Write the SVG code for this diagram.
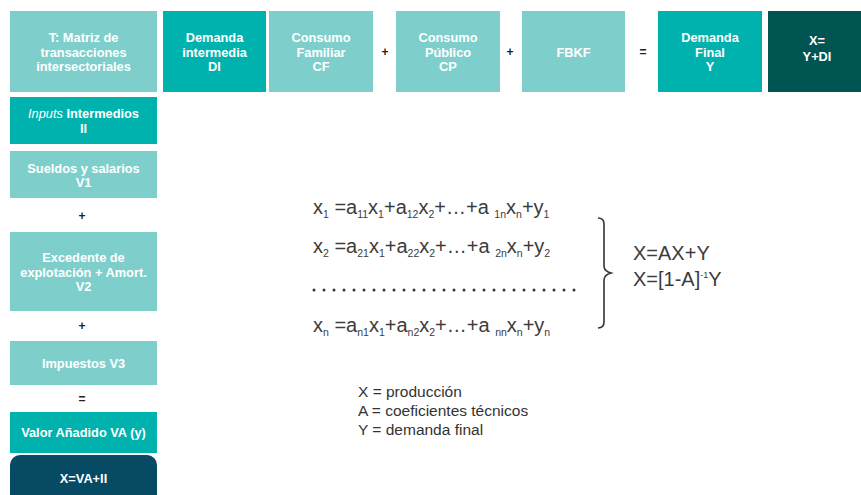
<svg xmlns="http://www.w3.org/2000/svg" width="861" height="495" viewBox="0 0 861 495">
<style>
.lt{fill:#7ecfcc}
.tl{fill:#00b2ad}
.dg{fill:#005552}
.db{fill:#064a64}
.bt{font-family:"Liberation Sans",Arial,sans-serif;font-weight:bold;font-size:12.8px;fill:#ffffff;text-anchor:middle}
.op{font-family:"Liberation Sans",Arial,sans-serif;font-weight:bold;font-size:12px;fill:#222;text-anchor:middle}
.eq{font-family:"Liberation Sans",Arial,sans-serif;font-size:20px;fill:#3c3c3c}
.sb{font-size:10.5px}
.rs{font-family:"Liberation Sans",Arial,sans-serif;font-size:20px;fill:#3c3c3c}
.lg{font-family:"Liberation Sans",Arial,sans-serif;font-size:15.5px;fill:#333}
</style>
<rect width="861" height="495" fill="#ffffff"/>
<g id="n-matriz"><rect class="lt" x="10" y="11" width="147" height="81"/>
<text class="bt" x="83.5" y="42">T: Matriz de</text><text class="bt" x="83.5" y="56.5">transacciones</text><text class="bt" x="83.5" y="71">intersectoriales</text></g>
<g id="n-di"><rect class="tl" x="163" y="11" width="103" height="81"/>
<text class="bt" x="214.5" y="42">Demanda</text><text class="bt" x="214.5" y="56.5">intermedia</text><text class="bt" x="214.5" y="71">DI</text></g>
<g id="n-cf"><rect class="lt" x="269" y="11" width="104" height="81"/>
<text class="bt" x="321" y="42">Consumo</text><text class="bt" x="321" y="56.5">Familiar</text><text class="bt" x="321" y="71">CF</text></g>
<text class="op" x="385" y="56">+</text>
<g id="n-cp"><rect class="lt" x="396" y="11" width="104" height="81"/>
<text class="bt" x="448" y="42">Consumo</text><text class="bt" x="448" y="56.5">Público</text><text class="bt" x="448" y="71">CP</text></g>
<text class="op" x="510" y="56">+</text>
<g id="n-fbkf"><rect class="lt" x="522" y="11" width="103" height="81"/>
<text class="bt" x="573.5" y="56.5">FBKF</text></g>
<text class="op" x="643" y="56">=</text>
<g id="n-y"><rect class="tl" x="658" y="11" width="104" height="81"/>
<text class="bt" x="710" y="42">Demanda</text><text class="bt" x="710" y="56.5">Final</text><text class="bt" x="710" y="71">Y</text></g>
<g id="n-x"><rect class="dg" x="768" y="11" width="100" height="81"/>
<text class="bt" x="817" y="45">X=</text><text class="bt" x="817" y="61">Y+DI</text></g>

<g id="n-ii"><rect class="tl" x="10" y="97" width="147" height="47"/>
<text class="bt" x="83.5" y="118"><tspan font-style="italic" font-weight="normal">Inputs</tspan> Intermedios</text><text class="bt" x="83.5" y="132.5">II</text></g>
<g id="n-v1"><rect class="lt" x="10" y="151" width="147" height="47"/>
<text class="bt" x="83.5" y="172.5">Sueldos y salarios</text><text class="bt" x="83.5" y="187">V1</text></g>
<text class="op" x="82" y="220">+</text>
<g id="n-v2"><rect class="lt" x="10" y="232" width="147" height="79"/>
<text class="bt" x="83.5" y="262">Excedente de</text><text class="bt" x="83.5" y="276.5">explotación + Amort.</text><text class="bt" x="83.5" y="291">V2</text></g>
<text class="op" x="82" y="330">+</text>
<g id="n-v3"><rect class="lt" x="10" y="341" width="147" height="44"/>
<text class="bt" x="83.5" y="367.5">Impuestos V3</text></g>
<text class="op" x="82" y="403">=</text>
<g id="n-va"><rect class="tl" x="10" y="412" width="147" height="41"/>
<text class="bt" x="83.5" y="437">Valor Añadido VA (y)</text></g>
<g id="n-xva"><rect class="db" x="10" y="455" width="147" height="50" rx="10"/>
<text class="bt" x="83.5" y="482.5">X=VA+II</text></g>

<g id="equations">
<text class="eq" x="313" y="214">x<tspan class="sb" dy="4">1</tspan><tspan dy="-4"> =a</tspan><tspan class="sb" dy="4">11</tspan><tspan dy="-4">x</tspan><tspan class="sb" dy="4">1</tspan><tspan dy="-4">+a</tspan><tspan class="sb" dy="4">12</tspan><tspan dy="-4">x</tspan><tspan class="sb" dy="4">2</tspan><tspan dy="-4">+…+a </tspan><tspan class="sb" dy="4">1n</tspan><tspan dy="-4">x</tspan><tspan class="sb" dy="4">n</tspan><tspan dy="-4">+y</tspan><tspan class="sb" dy="4">1</tspan></text>
<text class="eq" x="313" y="253">x<tspan class="sb" dy="4">2</tspan><tspan dy="-4"> =a</tspan><tspan class="sb" dy="4">21</tspan><tspan dy="-4">x</tspan><tspan class="sb" dy="4">1</tspan><tspan dy="-4">+a</tspan><tspan class="sb" dy="4">22</tspan><tspan dy="-4">x</tspan><tspan class="sb" dy="4">2</tspan><tspan dy="-4">+…+a </tspan><tspan class="sb" dy="4">2n</tspan><tspan dy="-4">x</tspan><tspan class="sb" dy="4">n</tspan><tspan dy="-4">+y</tspan><tspan class="sb" dy="4">2</tspan></text>
<text class="eq" x="313" y="332">x<tspan class="sb" dy="4">n</tspan><tspan dy="-4"> =a</tspan><tspan class="sb" dy="4">n1</tspan><tspan dy="-4">x</tspan><tspan class="sb" dy="4">1</tspan><tspan dy="-4">+a</tspan><tspan class="sb" dy="4">n2</tspan><tspan dy="-4">x</tspan><tspan class="sb" dy="4">2</tspan><tspan dy="-4">+…+a </tspan><tspan class="sb" dy="4">nn</tspan><tspan dy="-4">x</tspan><tspan class="sb" dy="4">n</tspan><tspan dy="-4">+y</tspan><tspan class="sb" dy="4">n</tspan></text>
<line x1="314" y1="290" x2="576" y2="290" stroke="#333" stroke-width="3" stroke-linecap="round" stroke-dasharray="0 10"/>
<path d="M598,218 Q604,218 604,224 L604,266 Q604,271 611,273 Q604,275 604,280 L604,322 Q604,328 598,328" fill="none" stroke="#333" stroke-width="1.6"/>
<text class="rs" x="633" y="260">X=AX+Y</text>
<text class="rs" x="633" y="286">X=[1-A]<tspan font-size="9" dy="-8">-1</tspan><tspan dy="8">Y</tspan></text>
</g>
<g id="legend">
<text class="lg" x="358" y="397">X = producción</text>
<text class="lg" x="358" y="416">A = coeficientes técnicos</text>
<text class="lg" x="358" y="435">Y = demanda final</text>
</g>
</svg>
